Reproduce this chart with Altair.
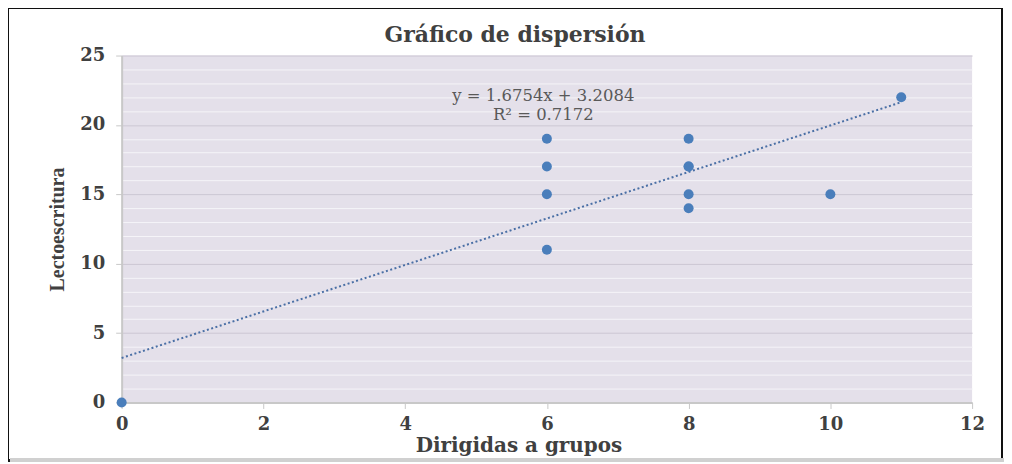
import altair as alt
import pandas as pd

# data
dirigidas = [0, 6, 6, 6, 6, 8, 8, 8, 8, 8, 10, 11]
lectoescritura = [0, 19, 17, 15, 11, 19, 17, 17, 15, 14, 15, 22]

slope = 1.6754
intercept = 3.2084
trend_x = [0, 11]

eq_lines = ["y = 1.6754x  + 3.2084", "R² = 0.7172"]
eq_x = [5.95, 5.95]
eq_y = [22.1, 20.7]

x_ticks = [0, 2, 4, 6, 8, 10, 12]
y_grid = list(range(0, 26))

pts = pd.DataFrame({"x": dirigidas, "y": lectoescritura})
trend = pd.DataFrame({"x": trend_x, "y": [slope * v + intercept for v in trend_x]})
eq = pd.DataFrame({"t": eq_lines, "x": eq_x, "y": eq_y})

W, H = 853, 348
SERIF = "DejaVu Serif"

xs = alt.Scale(domain=[0, 12], nice=False)
ys = alt.Scale(domain=[0, 25], nice=False)

x_axis = alt.Axis(
    values=x_ticks, tickCount=7, grid=False, title="Dirigidas a grupos", format="d",
    labelOverlap=False, labelFlush=False,
    labelFont=SERIF, labelFontWeight="bold", labelFontSize=18, labelColor="#404040",
    labelPadding=7, tickColor="#c8c8c8", tickSize=6, domainColor="#c8c8c8", domainWidth=2,
    titleFont=SERIF, titleFontWeight="bold", titleFontSize=20, titleColor="#404040",
    titleX=398, titleY=49, titleBaseline="alphabetic",
)
y_axis = alt.Axis(
    values=y_grid, tickCount=30, title="Lectoescritura", format="d",
    labelOverlap=False, labelFlush=False,
    labelExpr="datum.value % 5 === 0 ? datum.label : ''",
    labelFont=SERIF, labelFontWeight="bold", labelFontSize=18, labelColor="#404040",
    labelPadding=11,
    tickColor=alt.condition("datum.value % 5 === 0", alt.value("#c8c8c8"), alt.value("transparent")),
    tickSize=6,
    gridColor=alt.condition("datum.value % 5 === 0", alt.value("#ccc7d3"), alt.value("#f5f4f8")),
    gridWidth=1,
    domainColor="#c8c8c8", domainWidth=2,
    titleFont="Liberation Serif", titleFontWeight="bold", titleFontSize=20, titleColor="#404040",
    titleX=-54,
)

points = alt.Chart(pts).mark_point(filled=True, size=100, color="#4a7ebb", opacity=1, clip=False).encode(
    x=alt.X("x:Q", scale=xs, axis=x_axis),
    y=alt.Y("y:Q", scale=ys, axis=y_axis),
)

line = alt.Chart(trend).mark_line(color="#4a6fa5", strokeWidth=2, strokeDash=[2, 2.5]).encode(
    x=alt.X("x:Q", scale=xs), y=alt.Y("y:Q", scale=ys)
)

text = alt.Chart(eq).mark_text(font=SERIF, fontSize=16.5, color="#595959", align="center", baseline="middle").encode(
    x=alt.X("x:Q", scale=xs), y=alt.Y("y:Q", scale=ys), text="t:N"
)

frame = alt.Chart(pts).mark_rect(fill="transparent", stroke="#111111", strokeWidth=2).encode(
    x=alt.value(-114), x2=alt.value(W + 30), y=alt.value(-48), y2=alt.value(H + 58)
)
bottom_edge = alt.Chart(pts).mark_rule(color="#d0d0d0", strokeWidth=3).encode(
    x=alt.value(-112), x2=alt.value(W + 32), y=alt.value(H + 58)
)

chart = alt.layer(frame, bottom_edge, line, points, text).properties(
    width=W, height=H,
    title=alt.TitleParams("Gráfico de dispersión", font=SERIF, fontWeight="bold", fontSize=22,
                          color="#404040", anchor="middle", dx=-32, dy=52, offset=12),
    autosize=alt.AutoSizeParams(type="none"),
    padding={"left": 114, "top": 47, "right": 32, "bottom": 60},
).configure_view(
    fill="#e4e0ea", stroke=None
)

chart.save("out.html", embed_options={"renderer": "svg", "actions": False})
